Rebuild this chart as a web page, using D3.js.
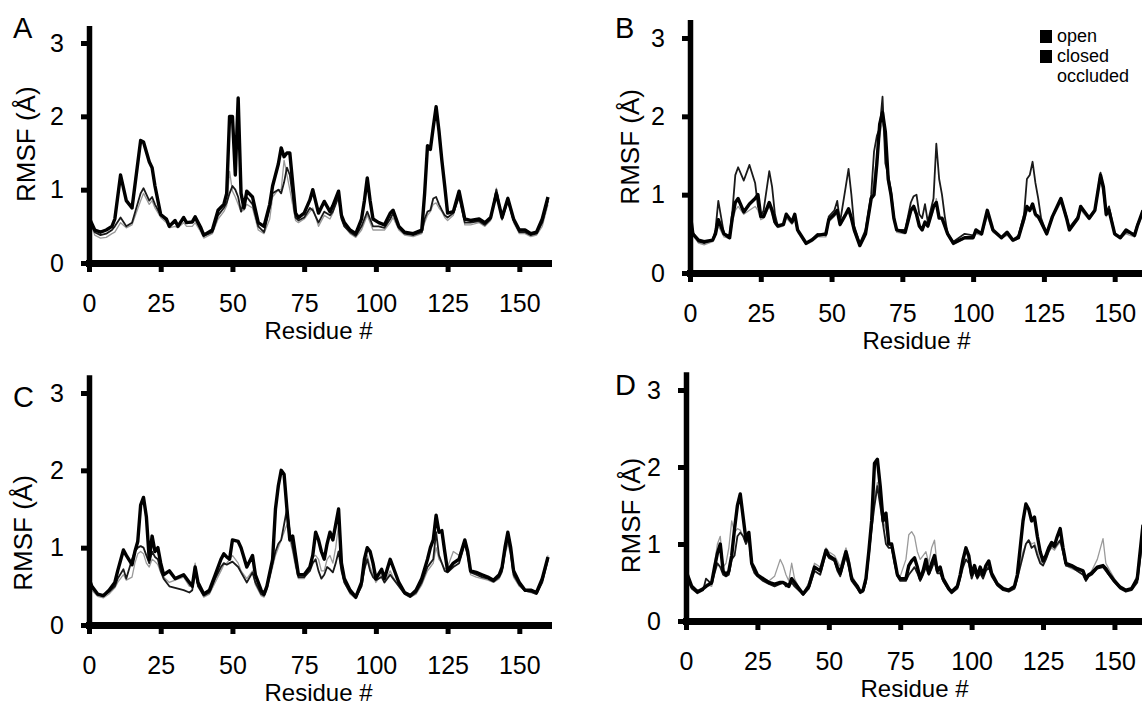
<!DOCTYPE html>
<html>
<head>
<meta charset="utf-8">
<script src="https://cdn.jsdelivr.net/npm/d3@7"></script>
<style>
    body { margin: 0; background: #fff; }
    svg { display: block; font-family: "Liberation Sans", Arial, sans-serif; }
    .axis path, .axis line { stroke: #000; }
    .axis path { stroke-linecap: square; }
    .axis text { font-size: 25px; fill: #000; font-family: "Liberation Sans", Arial, sans-serif; }
</style>
</head>
<body>
<svg id="chart" width="1142" height="706"></svg>
<script>
// residue numbers sampled per panel, and RMSF (Å) of the three states
const residuesA = [0,2,4,6,8,9,11,13,15,18,19,21,22,23,25,27,28,30,31,33,34,36,37,39,40,43,45,47,48,49,50,51,52,53,54,55,57,59,61,63,64,66,67,68,69,70,72,73,75,77,78,80,82,84,85,87,88,89,91,93,95,96,97,98,99,101,103,105,106,108,110,113,116,117,118,119,120,121,122,123,124,125,127,129,131,133,136,138,140,142,144,146,148,150,152,154,156,158,160];
const openA = [0.62,0.45,0.42,0.45,0.5,0.6,1.2,0.85,0.75,1.67,1.65,1.38,1.3,1.05,0.66,0.6,0.5,0.58,0.5,0.62,0.55,0.56,0.63,0.48,0.38,0.45,0.72,0.8,0.95,2.0,2.0,1.2,2.25,0.95,0.75,0.98,0.9,0.55,0.5,0.8,1.05,1.35,1.57,1.45,1.5,1.5,0.68,0.62,0.68,0.86,1.0,0.68,0.84,0.7,0.78,0.98,0.65,0.55,0.45,0.4,0.6,0.85,1.16,0.85,0.6,0.55,0.52,0.68,0.72,0.5,0.42,0.4,0.45,0.95,1.6,1.55,1.85,2.13,1.8,1.4,1.05,0.68,0.7,0.98,0.6,0.58,0.6,0.55,0.62,0.95,0.62,0.88,0.6,0.45,0.45,0.4,0.42,0.6,0.9];
const closedA = [0.58,0.42,0.38,0.4,0.45,0.5,0.62,0.5,0.55,0.95,1.02,0.85,0.9,0.8,0.65,0.58,0.52,0.55,0.52,0.6,0.55,0.55,0.6,0.45,0.37,0.42,0.65,0.75,0.82,0.95,1.05,1.0,0.9,0.7,0.85,0.9,0.8,0.5,0.42,0.75,0.95,1.0,0.95,1.1,1.3,1.2,0.62,0.58,0.62,0.75,0.72,0.55,0.7,0.65,0.7,0.9,0.6,0.5,0.42,0.37,0.5,0.6,0.7,0.6,0.5,0.5,0.48,0.6,0.68,0.48,0.4,0.38,0.42,0.6,0.7,0.72,0.88,0.9,0.8,0.72,0.65,0.62,0.68,0.9,0.55,0.55,0.57,0.52,0.6,1.0,0.6,0.85,0.58,0.42,0.42,0.38,0.4,0.55,0.85];
const occludedA = [0.6,0.38,0.34,0.35,0.4,0.42,0.55,0.48,0.52,0.85,0.95,0.8,0.85,0.75,0.62,0.55,0.48,0.5,0.48,0.55,0.5,0.5,0.55,0.42,0.34,0.4,0.6,0.7,0.78,1.25,0.98,0.9,0.8,0.7,0.72,0.8,0.75,0.45,0.4,0.6,0.9,1.0,1.0,1.4,1.2,1.0,0.58,0.55,0.6,0.7,0.75,0.5,0.65,0.6,0.68,0.95,0.62,0.5,0.4,0.35,0.45,0.55,0.65,0.55,0.45,0.45,0.45,0.55,0.62,0.45,0.38,0.36,0.4,0.55,0.65,0.7,0.8,0.82,0.75,0.7,0.62,0.58,0.65,0.95,0.52,0.52,0.55,0.5,0.58,1.02,0.58,0.9,0.55,0.4,0.4,0.36,0.38,0.5,0.8];

const residuesB = [0,1,3,5,8,9,10,12,14,15,16,17,19,21,23,24,25,26,28,29,30,31,33,34,36,37,38,41,43,45,48,49,51,52,53,55,56,57,58,60,62,64,65,66,67,68,69,70,71,72,73,76,78,79,80,81,82,83,84,86,87,88,89,90,91,93,97,100,101,103,105,107,110,112,114,116,118,119,120,121,122,123,124,126,128,131,133,134,137,138,141,143,145,146,147,148,150,152,154,157,158,160];
const openB = [0.78,0.5,0.42,0.4,0.42,0.5,0.68,0.5,0.45,0.72,0.9,0.95,0.78,0.88,0.95,1.0,0.72,0.72,0.9,0.8,0.65,0.6,0.62,0.75,0.65,0.75,0.55,0.38,0.42,0.48,0.5,0.68,0.75,0.8,0.62,0.75,0.82,0.7,0.55,0.35,0.5,0.95,1.0,1.4,1.9,2.05,1.8,1.2,1.0,0.7,0.55,0.52,0.8,0.85,0.75,0.6,0.55,0.65,0.6,0.85,0.9,0.7,0.7,0.6,0.5,0.38,0.45,0.45,0.55,0.5,0.8,0.55,0.45,0.52,0.42,0.45,0.7,0.85,0.8,0.88,0.75,0.72,0.65,0.5,0.72,0.95,0.7,0.55,0.7,0.85,0.7,0.8,1.25,1.1,0.75,0.8,0.5,0.45,0.55,0.48,0.6,0.8];
const closedB = [0.75,0.52,0.4,0.38,0.42,0.55,0.92,0.5,0.48,0.8,1.25,1.35,1.18,1.38,1.15,0.85,0.72,0.8,1.3,1.1,0.75,0.6,0.62,0.75,0.65,0.72,0.55,0.38,0.42,0.5,0.48,0.72,0.8,0.92,0.65,1.1,1.33,1.0,0.6,0.38,0.55,1.0,1.55,1.75,1.85,2.25,1.4,1.25,1.05,0.72,0.55,0.55,0.9,0.98,1.0,0.75,0.7,0.88,0.65,0.95,1.65,1.2,1.0,0.72,0.5,0.4,0.5,0.48,0.52,0.5,0.78,0.55,0.45,0.5,0.42,0.48,0.75,1.2,1.25,1.42,1.15,0.95,0.7,0.5,0.72,0.95,0.72,0.58,0.72,0.82,0.72,0.8,1.28,1.05,0.78,0.85,0.5,0.45,0.52,0.5,0.62,0.78];
const occludedB = [0.72,0.48,0.38,0.36,0.4,0.48,0.6,0.46,0.44,0.65,0.8,0.85,0.75,0.8,0.85,0.8,0.68,0.7,0.85,0.75,0.62,0.58,0.6,0.7,0.62,0.7,0.52,0.36,0.4,0.46,0.46,0.65,0.72,0.78,0.6,0.72,0.8,0.68,0.52,0.34,0.48,0.9,1.2,1.5,1.75,1.95,1.6,1.15,0.95,0.68,0.52,0.5,0.78,0.82,0.72,0.58,0.55,0.62,0.58,0.8,0.95,0.72,0.68,0.58,0.48,0.36,0.44,0.44,0.5,0.48,0.72,0.52,0.44,0.48,0.4,0.44,0.65,0.8,0.78,0.85,0.72,0.7,0.62,0.48,0.7,0.9,0.68,0.55,0.68,0.8,0.68,0.78,1.2,1.0,0.72,0.78,0.48,0.44,0.5,0.46,0.58,0.75];

const residuesC = [0,1,3,5,7,9,10,12,13,15,16,17,18,19,20,21,22,23,24,25,26,28,30,33,35,36,37,38,40,42,44,46,47,48,49,50,52,53,55,57,58,60,61,62,64,65,66,67,68,69,70,71,72,73,75,77,78,79,80,81,82,83,84,85,86,87,88,89,91,93,95,96,97,98,99,100,102,103,105,106,108,110,112,114,116,118,119,120,121,122,123,124,125,127,129,131,132,133,135,137,139,141,143,144,145,146,147,148,150,152,154,156,158,160];
const openC = [0.6,0.5,0.4,0.38,0.45,0.55,0.7,0.97,0.9,0.78,0.95,1.08,1.55,1.65,1.4,0.85,1.15,0.95,1.0,0.8,0.65,0.7,0.6,0.65,0.55,0.5,0.75,0.55,0.4,0.45,0.65,0.85,0.92,0.88,0.85,1.1,1.08,1.0,0.75,0.9,0.65,0.45,0.4,0.5,0.85,1.5,1.8,2.0,1.95,1.5,1.1,1.15,0.9,0.65,0.65,0.75,0.9,1.2,1.1,0.95,0.85,1.05,1.2,1.1,1.3,1.5,0.8,0.6,0.45,0.36,0.55,0.85,1.0,0.95,0.8,0.6,0.72,0.6,0.85,0.75,0.55,0.42,0.38,0.45,0.6,0.85,1.0,1.1,1.42,1.2,1.22,0.95,0.7,0.8,0.85,1.1,0.95,0.7,0.68,0.65,0.62,0.58,0.65,0.75,1.0,1.2,1.0,0.7,0.55,0.45,0.45,0.42,0.6,0.88];
const closedC = [0.58,0.48,0.4,0.37,0.43,0.5,0.6,0.72,0.6,0.85,0.95,1.0,1.02,1.0,0.9,0.8,0.95,0.88,0.85,0.7,0.6,0.5,0.48,0.45,0.42,0.45,0.7,0.5,0.38,0.42,0.6,0.75,0.8,0.78,0.8,0.82,0.75,0.68,0.55,0.68,0.55,0.4,0.38,0.48,0.8,0.95,1.05,1.1,1.3,1.5,1.2,1.0,0.8,0.62,0.62,0.7,0.8,0.85,0.7,0.6,0.65,0.75,0.72,0.68,0.8,0.95,0.7,0.55,0.42,0.35,0.5,0.72,0.85,0.7,0.62,0.58,0.62,0.55,0.65,0.6,0.5,0.4,0.36,0.42,0.55,0.75,0.8,0.85,1.2,0.9,0.8,0.7,0.68,0.75,0.8,1.05,0.9,0.68,0.65,0.62,0.6,0.56,0.62,0.7,0.95,1.12,0.95,0.65,0.52,0.44,0.43,0.4,0.55,0.85];
const occludedC = [0.62,0.45,0.37,0.35,0.4,0.48,0.55,0.65,0.58,0.62,0.8,0.92,0.95,0.92,0.8,0.75,0.85,0.82,0.78,0.68,0.62,0.55,0.58,0.62,0.5,0.55,0.8,0.5,0.36,0.4,0.55,0.7,0.78,0.8,0.85,0.9,0.8,0.7,0.6,0.7,0.52,0.38,0.36,0.45,0.75,0.9,1.0,1.1,1.2,1.3,1.1,0.95,0.75,0.6,0.6,0.75,0.88,0.9,0.85,0.7,0.7,0.85,0.9,0.8,1.0,1.3,0.75,0.55,0.4,0.34,0.5,0.7,0.9,0.75,0.65,0.55,0.65,0.55,0.7,0.62,0.5,0.4,0.36,0.4,0.52,0.7,0.75,0.8,1.0,0.85,0.8,0.72,0.75,0.95,0.9,1.1,0.95,0.65,0.62,0.6,0.58,0.55,0.6,0.68,0.9,1.05,0.9,0.62,0.5,0.44,0.42,0.4,0.55,0.9];

const residuesD = [0,2,4,6,7,9,10,11,12,13,14,15,16,17,18,19,20,21,22,23,24,25,27,29,31,33,34,35,36,37,38,40,41,43,45,47,49,50,52,53,54,56,57,58,60,61,62,63,64,65,66,67,68,69,70,71,72,73,74,75,77,78,79,80,81,82,83,84,85,86,87,88,89,90,92,93,95,96,97,98,99,100,101,102,103,104,105,106,107,109,111,113,115,116,117,118,119,120,121,122,123,124,125,126,127,128,129,130,131,132,133,135,137,139,140,141,142,144,146,147,148,150,152,154,156,158,160];
const openD = [0.65,0.45,0.38,0.42,0.45,0.5,0.7,0.88,1.0,0.65,0.6,0.65,0.85,1.2,1.5,1.65,1.35,1.05,1.15,0.75,0.68,0.6,0.55,0.5,0.48,0.5,0.5,0.48,0.45,0.55,0.5,0.4,0.35,0.45,0.7,0.65,0.92,0.85,0.8,0.7,0.62,0.9,0.75,0.55,0.45,0.38,0.4,0.55,0.9,1.3,2.05,2.1,1.75,1.3,1.4,1.0,1.0,0.8,0.6,0.55,0.55,0.72,0.78,0.82,0.7,0.55,0.65,0.8,0.62,0.75,0.85,0.65,0.7,0.55,0.42,0.38,0.45,0.6,0.8,0.95,0.85,0.6,0.72,0.58,0.7,0.6,0.72,0.78,0.62,0.48,0.42,0.4,0.45,0.6,0.95,1.3,1.52,1.45,1.3,1.35,1.1,0.9,0.78,0.85,0.95,1.02,0.98,1.1,1.2,0.95,0.75,0.72,0.68,0.65,0.55,0.6,0.62,0.7,0.72,0.68,0.62,0.52,0.44,0.4,0.42,0.55,1.25];
const closedD = [0.6,0.42,0.36,0.4,0.55,0.48,0.62,0.75,0.7,0.6,0.58,0.6,0.8,0.85,1.1,1.15,1.1,1.0,1.1,0.72,0.62,0.58,0.52,0.48,0.45,0.48,0.5,0.45,0.45,0.5,0.45,0.38,0.34,0.42,0.65,0.6,0.88,0.82,0.78,0.65,0.58,0.85,0.7,0.52,0.42,0.36,0.38,0.5,0.85,1.2,1.5,1.75,1.5,1.25,1.0,0.95,0.95,0.75,0.58,0.52,0.52,0.6,0.65,0.7,0.62,0.52,0.6,0.7,0.6,0.68,0.78,0.62,0.62,0.52,0.4,0.36,0.42,0.55,0.7,0.8,0.75,0.55,0.65,0.55,0.62,0.55,0.65,0.7,0.58,0.46,0.4,0.38,0.42,0.55,0.7,0.85,1.0,1.05,0.95,0.98,0.85,0.75,0.72,0.8,0.9,0.98,0.95,1.0,1.05,0.9,0.72,0.7,0.65,0.6,0.52,0.58,0.6,0.68,0.7,0.65,0.6,0.5,0.42,0.38,0.4,0.5,1.1];
const occludedD = [0.55,0.42,0.37,0.42,0.48,0.45,0.75,1.0,1.1,0.7,0.75,0.95,1.3,1.15,1.2,1.18,1.1,1.0,1.05,0.7,0.62,0.58,0.55,0.52,0.58,0.8,0.72,0.6,0.52,0.75,0.55,0.4,0.35,0.5,0.75,0.7,0.95,0.9,0.85,0.78,0.7,0.95,0.82,0.6,0.45,0.38,0.4,0.55,0.95,1.2,1.6,1.8,1.55,1.3,1.2,1.0,0.95,0.8,0.6,0.58,0.8,1.12,1.16,1.1,0.9,0.8,0.85,0.9,0.75,0.95,1.05,0.7,0.65,0.55,0.42,0.36,0.45,0.58,0.75,0.9,0.8,0.6,0.68,0.58,0.65,0.58,0.68,0.72,0.6,0.5,0.44,0.4,0.42,0.55,0.75,0.9,1.0,1.05,1.0,1.02,0.9,0.78,0.75,0.8,0.9,0.95,0.92,0.98,1.02,0.88,0.72,0.68,0.65,0.6,0.55,0.6,0.65,0.8,1.07,0.75,0.68,0.55,0.45,0.4,0.42,0.6,1.2];

const seriesNames = ["open", "closed", "occluded"];
const xTicks = [0, 25, 50, 75, 100, 125, 150];
const yTicks = [0, 1, 2, 3];

// look of each state (scanned black & white figure)
const seriesStyle = {
    open:     { stroke: "#000", width: 3.4 },
    closed:   { stroke: "#1a1a1a", width: 1.8 },
    occluded: { stroke: "#9a9a9a", width: 1.3 }
};

// panel layout: left/right = x(0)/x(160), bottom/top = y(0)/y(3)
const panels = [
    { label: "A", residues: residuesA, values: [openA, closedA, occludedA],
      left: 89, right: 548, bottom: 263, top: 43, titleX: 26, titleVal: 1.62, lx: 13, ly: 38 },
    { label: "B", residues: residuesB, values: [openB, closedB, occludedB],
      left: 690, right: 1143, bottom: 273, top: 38, titleX: 630, titleVal: 1.61, lx: 615, ly: 38 },
    { label: "C", residues: residuesC, values: [openC, closedC, occludedC],
      left: 89, right: 548, bottom: 625, top: 393, titleX: 23, titleVal: 1.19, lx: 13, ly: 407 },
    { label: "D", residues: residuesD, values: [openD, closedD, occludedD],
      left: 686, right: 1143, bottom: 621, top: 390, titleX: 631, titleVal: 1.37, lx: 615, ly: 395 }
];

const svg = d3.select("#chart");

panels.forEach(p => {
    const unit = (p.bottom - p.top) / 3;
    const x = d3.scaleLinear().domain([0, 160]).range([p.left, p.right]);
    const y = d3.scaleLinear().domain([0, 3.2]).range([p.bottom, p.bottom - 3.2 * unit]);

    const g = svg.append("g").attr("class", "panel" + p.label);

    // lines, occluded underneath, open on top
    const line = d3.line()
        .x((d, i) => x(p.residues[i]))
        .y(d => y(d));

    seriesNames.slice().reverse().forEach(name => {
        const idx = seriesNames.indexOf(name);
        g.append("path")
            .datum(p.values[idx])
            .attr("fill", "none")
            .attr("stroke", seriesStyle[name].stroke)
            .attr("stroke-width", seriesStyle[name].width)
            .attr("stroke-linejoin", "round")
            .attr("d", line);
    });

    // x axis
    g.append("g")
        .attr("class", "axis")
        .attr("transform", `translate(0,${p.bottom})`)
        .call(d3.axisBottom(x).tickValues(xTicks).tickFormat(d3.format("d"))
            .tickSize(9).tickSizeOuter(0).tickPadding(22))
        .call(a => a.select(".domain").attr("stroke-width", 7))
        .call(a => a.selectAll(".tick line").attr("stroke-width", 5));

    // y axis
    g.append("g")
        .attr("class", "axis")
        .attr("transform", `translate(${p.left},0)`)
        .call(d3.axisLeft(y).tickValues(yTicks).tickFormat(d3.format("d"))
            .tickSize(8).tickSizeOuter(0).tickPadding(17))
        .call(a => a.select(".domain").attr("stroke-width", 5.5))
        .call(a => a.selectAll(".tick line").attr("stroke-width", 5));

    // axis titles
    g.append("text")
        .attr("x", (p.left + p.right) / 2)
        .attr("y", p.bottom + 76)
        .attr("text-anchor", "middle")
        .attr("font-size", 24)
        .text("Residue #");

    g.append("text")
        .attr("transform", `translate(${p.titleX},${y(p.titleVal)}) rotate(-90)`)
        .attr("text-anchor", "middle")
        .attr("dy", "0.35em")
        .attr("font-size", 26)
        .text("RMSF (Å)");

    // panel letter
    g.append("text")
        .attr("x", p.lx)
        .attr("y", p.ly)
        .attr("font-size", 29)
        .text(p.label);
});

// legend (panel B)
const legend = svg.append("g").attr("transform", "translate(1040,30)");
const legendFill = { open: "#000", closed: "#000", occluded: "#fff" };
seriesNames.forEach((name, i) => {
    const row = legend.append("g").attr("transform", `translate(0,${i * 20})`);
    row.append("rect")
        .attr("width", 12).attr("height", 13)
        .attr("fill", legendFill[name]);
    row.append("text")
        .attr("x", 17).attr("y", 12)
        .attr("font-size", 18)
        .text(name);
});
</script>
</body>
</html>
